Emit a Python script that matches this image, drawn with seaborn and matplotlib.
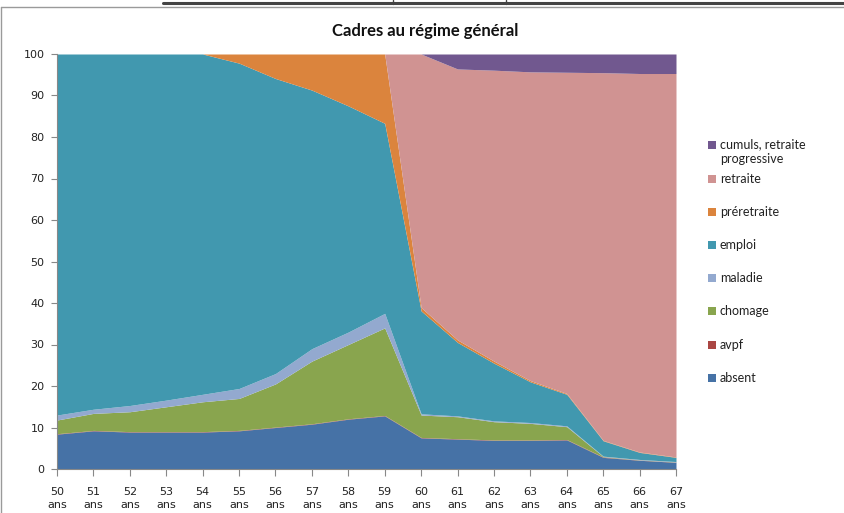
import numpy as np
import pandas as pd
import matplotlib
matplotlib.use("Agg")
from matplotlib import pyplot as plt
from matplotlib.lines import Line2D
from matplotlib.patches import Rectangle
import seaborn as sns

# ages (x axis)
ages = list(range(50, 68))
age_labels = [f"{a}\nans" for a in ages]

# series values (percent of the cohort, stacked from bottom to top)
absent = [8.4, 9.2, 8.9, 8.9, 8.9, 9.2, 10.0, 10.8, 12.0, 12.8, 7.5, 7.2, 6.9, 6.9, 7.0, 2.8, 2.1, 1.6]
avpf = [0.1, 0.1, 0.1, 0.1, 0.1, 0.1, 0.1, 0.1, 0.1, 0.1, 0.1, 0.1, 0.1, 0.1, 0.1, 0.1, 0.05, 0.05]
chomage = [3.3, 4.1, 4.8, 6.0, 7.2, 7.7, 10.4, 15.1, 17.9, 21.1, 5.4, 5.3, 4.4, 4.0, 3.1, 0.1, 0.05, 0.05]
maladie = [1.2, 1.0, 1.5, 1.6, 1.8, 2.4, 2.5, 3.0, 3.0, 3.5, 0.3, 0.2, 0.2, 0.2, 0.2, 0.1, 0.1, 0.1]
emploi = [87.0, 85.6, 84.7, 83.4, 82.0, 78.4, 71.1, 62.3, 54.5, 45.8, 24.8, 17.7, 13.9, 9.8, 7.6, 3.7, 1.7, 1.0]
preretraite = [0, 0, 0, 0, 0, 2.2, 5.9, 8.7, 12.5, 16.7, 0.8, 0.6, 0.5, 0.3, 0.2, 0.1, 0.1, 0.1]
retraite = [0, 0, 0, 0, 0, 0, 0, 0, 0, 0, 61.1, 65.3, 70.1, 74.4, 77.4, 88.6, 91.2, 92.4]
cumuls = [0, 0, 0, 0, 0, 0, 0, 0, 0, 0, 0, 3.6, 3.9, 4.3, 4.4, 4.5, 4.7, 4.7]

series_names = ["absent", "avpf", "chomage", "maladie", "emploi",
                "préretraite", "retraite", "cumuls, retraite\nprogressive"]
colors = ["#4672A6", "#AA4643", "#89A54E", "#93A9CF", "#4198AF",
          "#DB843D", "#D09392", "#71588F"]

df = pd.DataFrame({
    "age": ages,
    "absent": absent,
    "avpf": avpf,
    "chomage": chomage,
    "maladie": maladie,
    "emploi": emploi,
    "préretraite": preretraite,
    "retraite": retraite,
    "cumuls, retraite\nprogressive": cumuls,
})

sns.set_theme(style="white")
plt.rcParams["font.family"] = ["DejaVu Sans"]

fig = plt.figure(figsize=(8.45, 5.13), dpi=100)
ax = fig.add_axes([57 / 845, 1 - 469 / 513, (676 - 57) / 845, (469 - 54) / 513])

ax.stackplot(df["age"], [df[c] for c in series_names], colors=colors, linewidth=0)

ax.set_xlim(50, 67)
ax.set_ylim(0, 100)
ax.set_yticks(range(0, 101, 10))
ax.set_xticks(ages)
ax.set_xticklabels(age_labels, fontsize=8, color="#222222", linespacing=1.4)
ax.tick_params(axis="y", labelsize=8, colors="#222222", length=4, width=0.8,
               color="#888888", direction="out", left=True, pad=5)
ax.tick_params(axis="x", length=5, width=0.8, color="#888888", direction="out",
               bottom=True, pad=8)
for s in ["top", "right"]:
    ax.spines[s].set_visible(False)
for s in ["left", "bottom"]:
    ax.spines[s].set_color("#888888")
    ax.spines[s].set_linewidth(0.8)

fig.text(425 / 845, 1 - 31 / 513, "Cadres au régime général", ha="center", va="center",
         fontsize=12, fontweight="bold", family=["Lato", "DejaVu Sans"], color="#111111")

# legend, drawn top to bottom (reverse of stack order)
leg_y = [145, 179, 212, 245, 278, 311, 345, 378]
for name, col, y in zip(series_names[::-1], colors[::-1], leg_y):
    fig.patches.append(Rectangle((708 / 845, 1 - (y + 4) / 513), 8 / 845, 8 / 513,
                                 transform=fig.transFigure, facecolor=col, edgecolor="none"))
    fig.text(720 / 845, 1 - (y - 7) / 513 if "\n" in name else 1 - y / 513, name,
             ha="left", va="top" if "\n" in name else "center",
             fontsize=9, family=["Lato", "DejaVu Sans"], color="#222222",
             linespacing=1.3)

# page decorations: table border above and chart frame
fig.lines.append(Line2D([163 / 845, 1], [1 - 3 / 513, 1 - 3 / 513], transform=fig.transFigure,
                        color="#444444", linewidth=2.2))
for xs in (393, 506):
    fig.lines.append(Line2D([xs / 845, xs / 845], [1, 1 - 4 / 513], transform=fig.transFigure,
                            color="#444444", linewidth=1.0))
fig.lines.append(Line2D([1 / 845, 1], [1 - 7 / 513, 1 - 7 / 513], transform=fig.transFigure,
                        color="#9a9a9a", linewidth=1.0))
fig.lines.append(Line2D([1 / 845, 1 / 845], [0, 1 - 7 / 513], transform=fig.transFigure,
                        color="#9a9a9a", linewidth=1.0))

fig.savefig("out.png", dpi=100)
